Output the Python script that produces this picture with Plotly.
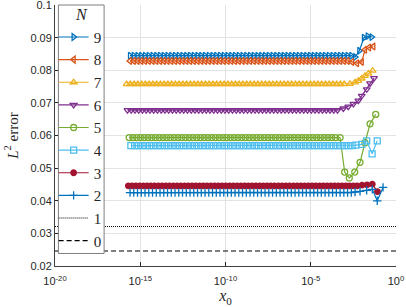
import numpy as np
import plotly.graph_objects as go

# ---- data ----
labels = ["9", "8", "7", "6", "5", "4", "3", "2"]
colors = ["#0072BD", "#D95319", "#EDB120", "#7E2F8E", "#77AC30", "#4DBEEE", "#A2142F", "#0072BD"]
symbols = ["triangle-right-open", "triangle-left-open", "triangle-up-open", "triangle-down-open",
           "circle-open", "square-open", "circle", "cross-thin-open"]

STEP = 0.22  # spacing of plateau samples in decades
plateau_start = [-15.6, -15.6, -15.8, -15.75, -15.65, -15.55, -15.7, -15.6]
plateau_level = [0.0845, 0.0829, 0.0758, 0.0678, 0.0594, 0.0569, 0.0446, 0.0425]

tail_x_9 = [-2.40, -2.15, -1.88, -1.66, -1.43]
tail_y_9 = [0.0841, 0.0860, 0.0900, 0.0905, 0.0902]
tail_x_8 = [-2.58, -2.29, -2.01, -1.82, -1.58, -1.33]
tail_y_8 = [0.0826, 0.0822, 0.0826, 0.0863, 0.0870, 0.0873]
tail_x_7 = [-2.70, -2.40, -2.21, -2.01, -1.82, -1.62, -1.37]
tail_y_7 = [0.0759, 0.0763, 0.0768, 0.0775, 0.0783, 0.0790, 0.0799]
tail_x_6 = [-3.09, -2.80, -2.50, -2.21, -2.01, -1.72, -1.52, -1.29]
tail_y_6 = [0.0683, 0.0689, 0.0697, 0.0707, 0.0722, 0.0742, 0.0760, 0.0776]
tail_x_5 = [-3.28, -3.01, -2.74, -2.42, -2.11, -1.82, -1.52, -1.19]
tail_y_5 = [0.0594, 0.0488, 0.0470, 0.0488, 0.0518, 0.0578, 0.0636, 0.0665]
tail_x_4 = [-2.35, -2.01, -1.72, -1.40, -1.10]
tail_y_4 = [0.0571, 0.0573, 0.0584, 0.0544, 0.0584]
tail_x_3 = [-1.99, -1.70, -1.39, -1.085]
tail_y_3 = [0.0448, 0.0449, 0.0451, 0.0428]
tail_x_2 = [-2.40, -2.11, -1.72, -1.39, -1.10, -0.76]
tail_y_2 = [0.0427, 0.0429, 0.0432, 0.0435, 0.0400, 0.0441]

tails_x = [tail_x_9, tail_x_8, tail_x_7, tail_x_6, tail_x_5, tail_x_4, tail_x_3, tail_x_2]
tails_y = [tail_y_9, tail_y_8, tail_y_7, tail_y_6, tail_y_5, tail_y_4, tail_y_3, tail_y_2]

ref_x = [1e-20, 1e0]
ref_1 = [0.0321, 0.0321]
ref_0 = [0.0246, 0.0246]

xtick_vals = [1e-20, 1e-15, 1e-10, 1e-5, 1e0]
xtick_text = ["10<sup>-20</sup>", "10<sup>-15</sup>", "10<sup>-10</sup>", "10<sup>-5</sup>", "10<sup>0</sup>"]
ytick_vals = [0.02, 0.03, 0.04, 0.05, 0.06, 0.07, 0.08, 0.09, 0.1]
ytick_text = ["0.02", "0.03", "0.04", "0.05", "0.06", "0.07", "0.08", "0.09", "0.1"]

SERIF = "Liberation Serif"
SANS = "Liberation Sans"

fig = go.Figure()
for i, lab in enumerate(labels):
    pl = np.arange(plateau_start[i], tails_x[i][0] - 0.12, STEP)
    xe = np.concatenate([pl, tails_x[i]])
    y = [plateau_level[i]] * len(pl) + list(tails_y[i])
    fig.add_trace(go.Scatter(
        x=10.0 ** xe, y=y, name=lab, mode="lines+markers",
        line=dict(color=colors[i], width=1.2),
        marker=dict(symbol=symbols[i], size=6 if symbols[i] != "circle" else 5.5,
                    color=colors[i], line=dict(color=colors[i], width=1.3)),
    ))

fig.add_trace(go.Scatter(x=ref_x, y=ref_1, name="1", mode="lines",
                         line=dict(color="black", width=1, dash="1px,1px")))
fig.add_trace(go.Scatter(x=ref_x, y=ref_0, name="0", mode="lines",
                         line=dict(color="black", width=1.2, dash="5px,3px")))

axis_font = dict(family=SANS, size=11, color="#262626")
fig.update_layout(
    width=406, height=307,
    margin=dict(l=55, r=10, t=5, b=41, autoexpand=False),
    paper_bgcolor="white", plot_bgcolor="white",
    showlegend=True,
    legend=dict(
        x=-0.004, y=0.94, xanchor="left", yanchor="top",
        bgcolor="rgba(0,0,0,0)", borderwidth=0,
        font=dict(family=SERIF, size=15.1, color="#262626"),
        itemwidth=30, tracegroupgap=0,
    ),
    shapes=[dict(type="rect", xref="paper", yref="paper", layer="above",
                 x0=0.010, x1=0.144, y0=0.048, y1=1.0,
                 fillcolor="white", line=dict(color="#7f7f7f", width=1))],
    annotations=[dict(text="<i>N</i>", xref="paper", yref="paper", x=0.077, y=0.965,
                      showarrow=False, xanchor="center", yanchor="middle",
                      font=dict(family=SERIF, size=16, color="#262626"))],
    xaxis=dict(
        type="log", range=[-20, 0], tickvals=xtick_vals, ticktext=xtick_text,
        ticks="inside", ticklen=4, tickcolor="#262626", tickfont=axis_font,
        ticklabelstandoff=5, ticklabeloverflow="allow",
        showgrid=True, gridcolor="#e3e3e3", gridwidth=1,
        showline=True, linecolor="#404040", linewidth=1, zeroline=False,
        title=dict(text="<i>x</i><sub>0</sub>",
                   font=dict(family=SERIF, size=16, color="#262626"),
                   standoff=1),
    ),
    yaxis=dict(
        range=[0.02, 0.10005], tickvals=ytick_vals, ticktext=ytick_text,
        ticks="inside", ticklen=4, tickcolor="#262626", tickfont=axis_font,
        ticklabeloverflow="allow",
        showgrid=True, gridcolor="#e3e3e3", gridwidth=1,
        showline=True, linecolor="#404040", linewidth=1, zeroline=False,
        title=dict(text="<i>L</i><sup>2</sup> error",
                   font=dict(family=SERIF, size=15, color="#262626"),
                   standoff=8),
    ),
)

fig.write_html("out.html", config={"displayModeBar": False},
               post_script="document.body.style.margin='0';document.body.style.overflow='hidden';")
